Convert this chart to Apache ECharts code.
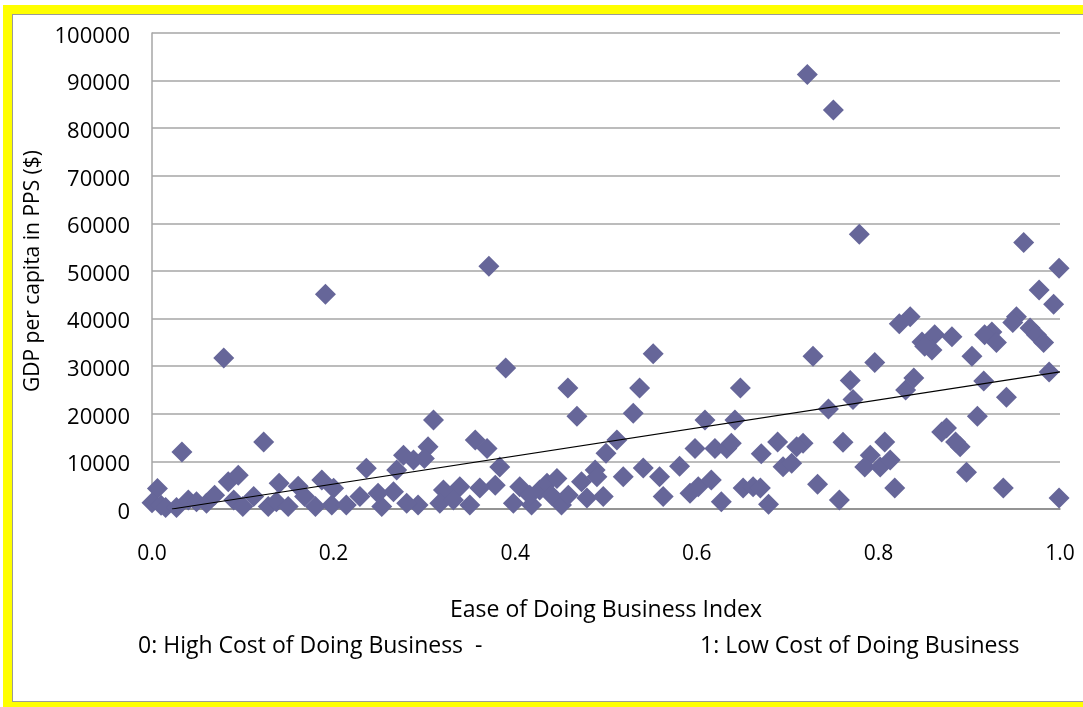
<!DOCTYPE html>
<html>
<head>
<meta charset="utf-8">
<script src="https://cdn.jsdelivr.net/npm/echarts@6/dist/echarts.min.js"></script>
<style>
html,body{margin:0;padding:0;background:#fff;}
#wrap{position:relative;width:1083px;height:707px;overflow:hidden;background:#fff;}
#chart{position:absolute;left:0;top:0;width:1083px;height:707px;}
.b{position:absolute;}
</style>
</head>
<body>
<div id="wrap">
<div id="chart"></div>
<div class="b" style="left:3px;top:5px;width:1080px;height:9px;background:#ffff00;"></div>
<div class="b" style="left:13px;top:14px;width:1070px;height:1px;background:#9a9a9a;"></div>
<div class="b" style="left:3px;top:5px;width:9px;height:702px;background:#ffff00;"></div>
<div class="b" style="left:12px;top:14px;width:1px;height:688px;background:#9a9a9a;"></div>
<div class="b" style="left:3px;top:702px;width:1080px;height:5px;background:#ffff00;"></div>
<div class="b" style="left:12px;top:701px;width:1071px;height:1px;background:#9a9a9a;"></div>
</div>
<script>
// Ease of Doing Business Index (x) vs GDP per capita in PPS (y)
const easeIndex = [
  0.033,0.123,0.006,0.000,0.010,0.015,0.027,0.040,0.049,0.060,0.069,0.084,0.095,0.090,0.100,0.112,0.128,0.140,0.137,0.150,
  0.161,0.168,0.180,0.187,0.200,0.198,0.214,0.229,0.236,0.079,0.191,0.371,0.3895,0.458,
  0.468,0.310,0.277,0.288,0.304,0.300,0.2695,0.356,0.369,0.383,0.378,0.361,0.339,0.321,0.317,0.350,0.332,0.293,0.2805,0.266,
  0.253,0.249,0.398,0.405,0.418,0.427,0.435,0.446,0.451,0.4585,0.473,0.479,0.488,0.490,0.440,0.416,
  0.537,0.530,0.648,0.609,0.642,0.512,0.500,0.519,0.541,0.559,0.563,0.497,0.581,0.598,0.620,0.633,0.638,0.5925,0.6016,0.616,
  0.627,0.651,0.662,0.670,0.679,0.671,0.689,0.695,0.7045,0.717,0.710,0.733,0.745,
  0.769,0.772,0.830,0.839,0.916,0.941,0.909,0.988,0.761,0.807,0.791,0.785,0.802,0.813,0.818,0.757,0.8697,0.875,0.890,0.897,
  0.9376,0.999,0.885,0.779,0.960,0.999,0.977,0.993,0.952,0.948,0.835,0.823,0.925,0.917,0.930,0.967,0.974,0.982,0.848,0.862,
  0.881,0.859,0.851,0.903,0.552,0.728,0.796,0.7217,0.7504
];
const gdpPerCapita = [
  12000,14100,4300,1300,800,300,300,1900,1500,1200,2900,5700,7100,1900,500,2600,500,5400,1500,500,
  4800,2600,500,6100,4350,850,850,2600,8550,31700,45100,51000,29600,25400,
  19500,18700,11300,10300,13100,10600,8200,14500,12700,8800,5000,4400,4700,4000,1200,850,1900,850,1200,3600,
  500,3300,1200,4700,850,4000,5400,6400,850,2900,5700,2300,8200,6800,2900,2900,
  25400,20100,25400,18700,18700,14500,11700,6800,8600,6800,2600,2600,9000,12700,12700,12700,13800,3300,4700,6100,
  1500,4400,4700,4400,1000,11600,14100,8900,9600,13800,13100,5200,21000,
  27000,23000,25000,27500,26900,23500,19500,28800,14000,14100,11300,8800,8800,10300,4400,1900,16200,17000,13100,7700,
  4400,2300,14100,57700,56000,50600,46000,43000,40400,39200,40400,38900,37200,36600,35000,38000,36600,35000,35100,36600,
  36200,33400,34200,32100,32600,32100,30800,91300,83800
];
// Linear trendline end points
const trendX = [0.022, 1.0];
const trendY = [0, 28800];
const xTicks = ['0.0','0.2','0.4','0.6','0.8','1.0'];
const yTitle = 'GDP per capita in PPS ($)';
const xTitle = 'Ease of Doing Business Index';
const xNoteLeft = '0: High Cost of Doing Business  -';
const xNoteRight = '1: Low Cost of Doing Business';

const FONT = '"Open Sans", "Noto Sans", sans-serif';
const points = easeIndex.map((x, i) => [x, gdpPerCapita[i]]);
const trend = trendX.map((x, i) => [x, trendY[i]]);

const chart = echarts.init(document.getElementById('chart'), null, {renderer: 'canvas'});
chart.setOption({
  animation: false,
  backgroundColor: '#ffffff',
  grid: {left: 152, right: 23, top: 33, bottom: 198, containLabel: false},
  xAxis: {
    type: 'value', min: 0, max: 1, interval: 0.2,
    axisLine: {show: true, lineStyle: {color: '#868686', width: 1.5}},
    axisTick: {show: false},
    splitLine: {show: false},
    axisLabel: {
      margin: 35, color: '#000', fontFamily: FONT, fontSize: 21,
      formatter: v => xTicks[Math.round(v / 0.2)]
    }
  },
  yAxis: {
    type: 'value', min: 0, max: 100000, interval: 10000,
    name: yTitle, nameLocation: 'middle', nameRotate: 90, nameGap: 98,
    nameTextStyle: {color: '#000', fontFamily: FONT, fontSize: 21},
    axisLine: {show: true, lineStyle: {color: '#a6a6a6', width: 1.5}},
    axisTick: {show: false},
    splitLine: {show: true, lineStyle: {color: '#a6a6a6', width: 1.5}},
    axisLabel: {
      margin: 22, color: '#000', fontFamily: FONT, fontSize: 22,
      formatter: v => '{t|' + v + '}',
      rich: {t: {color: '#000', fontFamily: FONT, fontSize: 22, padding: [7, 0, 0, 0]}}
    }
  },
  series: [
    {
      type: 'scatter', data: points, symbol: 'diamond', symbolSize: 21,
      itemStyle: {color: '#666699', opacity: 1}, z: 2
    },
    {
      type: 'line', data: trend, symbol: 'none', silent: true,
      lineStyle: {color: '#000', width: 1.2}, z: 3
    }
  ],
  graphic: [
    {type: 'text', x: 606, y: 599, style: {text: xTitle, fill: '#000', font: '23px ' + FONT, align: 'center', verticalAlign: 'top'}},
    {type: 'text', x: 138, y: 635, style: {text: xNoteLeft, fill: '#000', font: '23px ' + FONT, align: 'left', verticalAlign: 'top'}},
    {type: 'text', x: 700, y: 635, style: {text: xNoteRight, fill: '#000', font: '23px ' + FONT, align: 'left', verticalAlign: 'top'}}
  ]
});
</script>
</body>
</html>
